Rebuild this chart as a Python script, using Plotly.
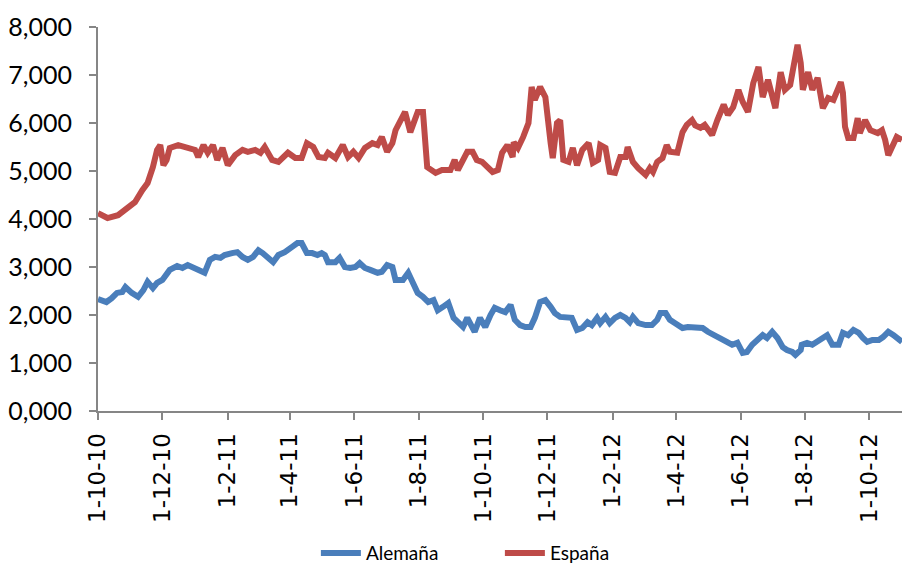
import plotly.graph_objects as go

# ---------------- data ----------------
esp_dates = [
    "2010-10-01", "2010-10-10", "2010-10-20", "2010-10-27", "2010-11-05", "2010-11-12", "2010-11-17",
    "2010-11-22", "2010-11-26", "2010-11-29", "2010-12-02", "2010-12-05", "2010-12-08", "2010-12-16",
    "2010-12-25", "2011-01-01", "2011-01-04", "2011-01-09", "2011-01-13", "2011-01-18", "2011-01-22",
    "2011-01-27", "2011-02-01", "2011-02-08", "2011-02-15", "2011-02-20", "2011-02-27", "2011-03-04",
    "2011-03-08", "2011-03-15", "2011-03-21", "2011-03-25", "2011-03-30", "2011-04-06", "2011-04-12",
    "2011-04-17", "2011-04-23", "2011-04-28", "2011-05-04", "2011-05-07", "2011-05-14", "2011-05-21",
    "2011-05-26", "2011-05-31", "2011-06-05", "2011-06-11", "2011-06-18", "2011-06-23", "2011-06-27",
    "2011-07-02", "2011-07-07", "2011-07-10", "2011-07-14", "2011-07-19", "2011-07-24", "2011-07-29",
    "2011-07-31", "2011-08-05", "2011-08-09", "2011-08-17", "2011-08-23", "2011-08-31", "2011-09-04",
    "2011-09-07", "2011-09-12", "2011-09-16", "2011-09-21", "2011-09-25", "2011-09-30", "2011-10-05",
    "2011-10-10", "2011-10-15", "2011-10-19", "2011-10-24", "2011-10-29", "2011-10-30", "2011-11-03",
    "2011-11-08", "2011-11-13", "2011-11-16", "2011-11-19", "2011-11-24", "2011-11-29", "2011-12-04",
    "2011-12-06", "2011-12-10", "2011-12-13", "2011-12-16", "2011-12-21", "2011-12-25", "2011-12-29",
    "2012-01-03", "2012-01-09", "2012-01-13", "2012-01-18", "2012-01-20", "2012-01-25", "2012-01-29",
    "2012-02-03", "2012-02-08", "2012-02-13", "2012-02-15", "2012-02-20", "2012-02-25", "2012-03-03",
    "2012-03-07", "2012-03-10", "2012-03-14", "2012-03-19", "2012-03-23", "2012-03-26", "2012-04-02",
    "2012-04-07", "2012-04-11", "2012-04-16", "2012-04-19", "2012-04-24", "2012-04-28", "2012-05-05",
    "2012-05-10", "2012-05-16", "2012-05-20", "2012-05-25", "2012-05-30", "2012-06-03", "2012-06-08",
    "2012-06-13", "2012-06-18", "2012-06-22", "2012-06-27", "2012-07-04", "2012-07-09", "2012-07-13",
    "2012-07-18", "2012-07-23", "2012-07-25", "2012-07-28", "2012-07-30", "2012-08-04", "2012-08-08",
    "2012-08-13", "2012-08-18", "2012-08-23", "2012-08-28", "2012-09-04", "2012-09-06", "2012-09-08",
    "2012-09-11", "2012-09-16", "2012-09-20", "2012-09-22", "2012-09-27", "2012-10-02", "2012-10-09",
    "2012-10-13", "2012-10-16", "2012-10-19", "2012-10-24", "2012-10-27", "2012-11-01",
]
esp_vals = [
    4.12, 4.02, 4.08, 4.19, 4.35, 4.60, 4.75,
    5.08, 5.44, 5.54, 5.12, 5.23, 5.48, 5.54,
    5.50, 5.44, 5.29, 5.54, 5.38, 5.54, 5.23,
    5.48, 5.12, 5.33, 5.44, 5.40, 5.44, 5.38,
    5.50, 5.23, 5.19, 5.27, 5.38, 5.27, 5.27,
    5.58, 5.50, 5.29, 5.27, 5.38, 5.27, 5.54,
    5.29, 5.40, 5.27, 5.48, 5.58, 5.54, 5.71,
    5.40, 5.58, 5.85, 6.00, 6.23, 5.81, 6.10,
    6.23, 6.23, 5.08, 4.96, 5.02, 5.02, 5.23,
    5.02, 5.27, 5.40, 5.40, 5.23, 5.19, 5.08,
    4.98, 5.02, 5.38, 5.54, 5.29, 5.60, 5.48,
    5.71, 6.00, 6.75, 6.48, 6.75, 6.54, 5.58,
    5.27, 6.00, 6.06, 5.23, 5.19, 5.48, 5.12,
    5.44, 5.58, 5.17, 5.23, 5.54, 5.48, 4.98,
    4.96, 5.29, 5.29, 5.50, 5.19, 5.06, 4.92,
    5.06, 4.98, 5.19, 5.27, 5.54, 5.40, 5.38,
    5.81, 5.96, 6.06, 5.95, 5.90, 5.96, 5.75,
    6.06, 6.38, 6.17, 6.33, 6.69, 6.44, 6.23,
    6.83, 7.17, 6.54, 6.90, 6.31, 7.06, 6.69,
    6.79, 7.46, 7.63, 7.25, 6.69, 7.06, 6.69,
    6.94, 6.31, 6.52, 6.48, 6.85, 6.63, 5.92,
    5.69, 5.69, 6.10, 5.79, 6.06, 5.85, 5.79,
    5.85, 5.65, 5.33, 5.54, 5.71, 5.65,
]

ale_dates = [
    "2010-10-01", "2010-10-09", "2010-10-14", "2010-10-19", "2010-10-24", "2010-10-27", "2010-11-02",
    "2010-11-08", "2010-11-13", "2010-11-17", "2010-11-22", "2010-11-26", "2010-12-01", "2010-12-04",
    "2010-12-08", "2010-12-15", "2010-12-20", "2010-12-25", "2011-01-01", "2011-01-06", "2011-01-10",
    "2011-01-15", "2011-01-20", "2011-01-25", "2011-01-29", "2011-02-05", "2011-02-10", "2011-02-15",
    "2011-02-20", "2011-02-25", "2011-03-02", "2011-03-06", "2011-03-11", "2011-03-16", "2011-03-21",
    "2011-03-27", "2011-04-03", "2011-04-08", "2011-04-12", "2011-04-17", "2011-04-22", "2011-04-27",
    "2011-05-01", "2011-05-04", "2011-05-07", "2011-05-14", "2011-05-18", "2011-05-23", "2011-05-28",
    "2011-06-02", "2011-06-06", "2011-06-11", "2011-06-16", "2011-06-23", "2011-06-27", "2011-07-02",
    "2011-07-07", "2011-07-10", "2011-07-14", "2011-07-17", "2011-07-22", "2011-07-27", "2011-07-31",
    "2011-08-05", "2011-08-10", "2011-08-15", "2011-08-19", "2011-08-24", "2011-08-29", "2011-09-03",
    "2011-09-07", "2011-09-12", "2011-09-16", "2011-09-19", "2011-09-23", "2011-09-28", "2011-10-03",
    "2011-10-08", "2011-10-12", "2011-10-17", "2011-10-22", "2011-10-27", "2011-10-31", "2011-11-05",
    "2011-11-10", "2011-11-15", "2011-11-19", "2011-11-24", "2011-11-29", "2011-12-04", "2011-12-08",
    "2011-12-13", "2011-12-18", "2011-12-24", "2011-12-29", "2012-01-03", "2012-01-08", "2012-01-12",
    "2012-01-17", "2012-01-20", "2012-01-25", "2012-01-29", "2012-02-03", "2012-02-08", "2012-02-13",
    "2012-02-17", "2012-02-20", "2012-02-25", "2012-03-03", "2012-03-09", "2012-03-14", "2012-03-17",
    "2012-03-22", "2012-03-26", "2012-03-31", "2012-04-07", "2012-04-12", "2012-04-19", "2012-04-26",
    "2012-05-01", "2012-05-08", "2012-05-15", "2012-05-19", "2012-05-24", "2012-05-29", "2012-06-03",
    "2012-06-07", "2012-06-12", "2012-06-17", "2012-06-22", "2012-06-26", "2012-07-01", "2012-07-06",
    "2012-07-11", "2012-07-15", "2012-07-20", "2012-07-23", "2012-07-28", "2012-07-29", "2012-08-03",
    "2012-08-08", "2012-08-13", "2012-08-17", "2012-08-22", "2012-08-27", "2012-09-02", "2012-09-06",
    "2012-09-11", "2012-09-16", "2012-09-21", "2012-09-25", "2012-09-29", "2012-10-04", "2012-10-10",
    "2012-10-14", "2012-10-19", "2012-10-24", "2012-10-27", "2012-11-01",
]
ale_vals = [
    2.33, 2.27, 2.35, 2.46, 2.48, 2.58, 2.46,
    2.38, 2.52, 2.69, 2.56, 2.67, 2.73, 2.83,
    2.94, 3.02, 2.98, 3.04, 2.97, 2.94, 2.88,
    3.15, 3.21, 3.19, 3.25, 3.29, 3.31, 3.21,
    3.15, 3.21, 3.35, 3.29, 3.21, 3.10, 3.25,
    3.31, 3.42, 3.50, 3.50, 3.29, 3.29, 3.25,
    3.29, 3.25, 3.10, 3.10, 3.19, 3.00, 2.98,
    3.00, 3.08, 2.98, 2.94, 2.88, 2.90, 3.04,
    3.00, 2.73, 2.73, 2.73, 2.88, 2.67, 2.46,
    2.38, 2.27, 2.31, 2.10, 2.17, 2.25, 1.94,
    1.85, 1.75, 1.94, 1.83, 1.65, 1.94, 1.75,
    2.00, 2.15, 2.10, 2.06, 2.21, 1.90, 1.79,
    1.75, 1.75, 1.94, 2.27, 2.31, 2.17, 2.04,
    1.96, 1.94, 1.94, 1.69, 1.73, 1.85, 1.79,
    1.94, 1.83, 1.96, 1.83, 1.94, 2.00, 1.94,
    1.85, 1.96, 1.83, 1.79, 1.79, 1.90, 2.04,
    2.04, 1.90, 1.83, 1.73, 1.75, 1.73, 1.73,
    1.65, 1.58, 1.48, 1.44, 1.38, 1.42, 1.21,
    1.23, 1.38, 1.48, 1.58, 1.52, 1.65, 1.52,
    1.33, 1.27, 1.23, 1.17, 1.27, 1.38, 1.42,
    1.38, 1.44, 1.52, 1.58, 1.38, 1.38, 1.63,
    1.58, 1.69, 1.63, 1.52, 1.44, 1.48, 1.48,
    1.54, 1.65, 1.58, 1.52, 1.44,
]

x_tick_dates = ["2010-10-01", "2010-12-01", "2011-02-01", "2011-04-01", "2011-06-01", "2011-08-01",
                "2011-10-01", "2011-12-01", "2012-02-01", "2012-04-01", "2012-06-01", "2012-08-01",
                "2012-10-01"]
x_tick_labels = ["1-10-10", "1-12-10", "1-2-11", "1-4-11", "1-6-11", "1-8-11", "1-10-11",
                 "1-12-11", "1-2-12", "1-4-12", "1-6-12", "1-8-12", "1-10-12"]
y_tick_vals = [0, 1, 2, 3, 4, 5, 6, 7, 8]
y_tick_labels = ["0,000", "1,000", "2,000", "3,000", "4,000", "5,000", "6,000", "7,000", "8,000"]

series_names = ["Alemaña", "España"]
series_colors = ["#4A7EBB", "#BE4B48"]

# ---------------- figure ----------------
fig = go.Figure()
fig.add_trace(go.Scatter(x=ale_dates, y=ale_vals, mode="lines", name=series_names[0],
                         line=dict(color=series_colors[0], width=6)))
fig.add_trace(go.Scatter(x=esp_dates, y=esp_vals, mode="lines", name=series_names[1],
                         line=dict(color=series_colors[1], width=6)))

axis_color = "#868686"
fig.update_layout(
    width=902, height=565,
    margin=dict(l=98, r=0, t=27, b=154, autoexpand=False),
    paper_bgcolor="white", plot_bgcolor="white",
    showlegend=True,
    legend=dict(orientation="h", xref="paper", yref="paper",
                x=0.271, y=-0.37, xanchor="left", yanchor="middle",
                entrywidth=129, entrywidthmode="pixels",
                font=dict(family="Lato, Open Sans, sans-serif", size=19, color="#000000"),
                itemwidth=40, bgcolor="rgba(0,0,0,0)"),
    xaxis=dict(
        type="date", automargin=False,
        range=["2010-10-01", "2012-11-01"],
        tickmode="array", tickvals=x_tick_dates, ticktext=x_tick_labels,
        tickangle=-90,
        tickfont=dict(family="DejaVu Sans, sans-serif", size=23, color="#000000"),
        ticks="outside", ticklen=7, tickwidth=2, tickcolor=axis_color,
        ticklabelstandoff=4,
        showline=True, linecolor=axis_color, linewidth=2,
        showgrid=False, zeroline=False,
    ),
    yaxis=dict(
        range=[0, 8], automargin=False,
        tickmode="array", tickvals=y_tick_vals, ticktext=y_tick_labels,
        tickfont=dict(family="Lato, Open Sans, sans-serif", size=25, color="#000000"),
        ticks="outside", ticklen=7, tickwidth=2, tickcolor=axis_color,
        ticklabelstandoff=12,
        showline=True, linecolor=axis_color, linewidth=2,
        showgrid=False, zeroline=False,
    ),
)

fig.write_html("out.html", config={"displayModeBar": False},
               post_script="document.body.style.margin='0';document.body.style.overflow='hidden';")
